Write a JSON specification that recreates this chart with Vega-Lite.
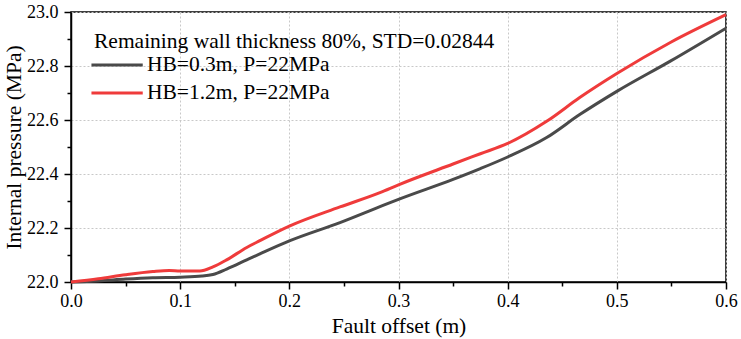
{
  "$schema": "https://vega.github.io/schema/vega-lite/v6.json",
  "autosize": {"type": "none"},
  "padding": {"left": 71, "top": 12, "right": 15, "bottom": 57},
  "width": 655,
  "height": 270,
  "config": {
    "font": "Times New Roman, Liberation Serif, serif",
    "view": {"stroke": "black", "strokeWidth": 1.5},
    "axis": {
      "domainColor": "black", "domainWidth": 1.5,
      "tickColor": "black", "tickWidth": 1.5,
      "labelFont": "Times New Roman, Liberation Serif, serif", "labelFontSize": 18, "labelColor": "black",
      "titleFont": "Times New Roman, Liberation Serif, serif", "titleFontSize": 21.5, "titleFontWeight": "normal", "titleColor": "black",
      "gridColor": "#c8c8c8", "gridDash": [2, 2], "gridWidth": 1
    }
  },
  "data": {"values": [
    {"x": 0, "p": 22.000, "s": "HB=0.3m, P=22MPa"},
    {"x": 0.025, "p": 22.004, "s": "HB=0.3m, P=22MPa"},
    {"x": 0.05, "p": 22.011, "s": "HB=0.3m, P=22MPa"},
    {"x": 0.075, "p": 22.016, "s": "HB=0.3m, P=22MPa"},
    {"x": 0.1, "p": 22.018, "s": "HB=0.3m, P=22MPa"},
    {"x": 0.12, "p": 22.022, "s": "HB=0.3m, P=22MPa"},
    {"x": 0.13, "p": 22.028, "s": "HB=0.3m, P=22MPa"},
    {"x": 0.1426, "p": 22.048, "s": "HB=0.3m, P=22MPa"},
    {"x": 0.161, "p": 22.082, "s": "HB=0.3m, P=22MPa"},
    {"x": 0.173, "p": 22.104, "s": "HB=0.3m, P=22MPa"},
    {"x": 0.2, "p": 22.152, "s": "HB=0.3m, P=22MPa"},
    {"x": 0.2464, "p": 22.22, "s": "HB=0.3m, P=22MPa"},
    {"x": 0.283, "p": 22.279, "s": "HB=0.3m, P=22MPa"},
    {"x": 0.3, "p": 22.306, "s": "HB=0.3m, P=22MPa"},
    {"x": 0.35, "p": 22.38, "s": "HB=0.3m, P=22MPa"},
    {"x": 0.375, "p": 22.42, "s": "HB=0.3m, P=22MPa"},
    {"x": 0.4, "p": 22.463, "s": "HB=0.3m, P=22MPa"},
    {"x": 0.4357, "p": 22.535, "s": "HB=0.3m, P=22MPa"},
    {"x": 0.466, "p": 22.62, "s": "HB=0.3m, P=22MPa"},
    {"x": 0.5, "p": 22.706, "s": "HB=0.3m, P=22MPa"},
    {"x": 0.549, "p": 22.818, "s": "HB=0.3m, P=22MPa"},
    {"x": 0.6, "p": 22.94, "s": "HB=0.3m, P=22MPa"},
    {"x": 0, "p": 22.000, "s": "HB=1.2m, P=22MPa"},
    {"x": 0.025, "p": 22.012, "s": "HB=1.2m, P=22MPa"},
    {"x": 0.05, "p": 22.027, "s": "HB=1.2m, P=22MPa"},
    {"x": 0.075, "p": 22.039, "s": "HB=1.2m, P=22MPa"},
    {"x": 0.09, "p": 22.043, "s": "HB=1.2m, P=22MPa"},
    {"x": 0.1, "p": 22.041, "s": "HB=1.2m, P=22MPa"},
    {"x": 0.118, "p": 22.041, "s": "HB=1.2m, P=22MPa"},
    {"x": 0.13, "p": 22.056, "s": "HB=1.2m, P=22MPa"},
    {"x": 0.1426, "p": 22.082, "s": "HB=1.2m, P=22MPa"},
    {"x": 0.161, "p": 22.128, "s": "HB=1.2m, P=22MPa"},
    {"x": 0.173, "p": 22.153, "s": "HB=1.2m, P=22MPa"},
    {"x": 0.2, "p": 22.207, "s": "HB=1.2m, P=22MPa"},
    {"x": 0.2464, "p": 22.278, "s": "HB=1.2m, P=22MPa"},
    {"x": 0.283, "p": 22.331, "s": "HB=1.2m, P=22MPa"},
    {"x": 0.3, "p": 22.36, "s": "HB=1.2m, P=22MPa"},
    {"x": 0.35, "p": 22.437, "s": "HB=1.2m, P=22MPa"},
    {"x": 0.375, "p": 22.475, "s": "HB=1.2m, P=22MPa"},
    {"x": 0.4, "p": 22.513, "s": "HB=1.2m, P=22MPa"},
    {"x": 0.4357, "p": 22.595, "s": "HB=1.2m, P=22MPa"},
    {"x": 0.466, "p": 22.683, "s": "HB=1.2m, P=22MPa"},
    {"x": 0.5, "p": 22.772, "s": "HB=1.2m, P=22MPa"},
    {"x": 0.549, "p": 22.887, "s": "HB=1.2m, P=22MPa"},
    {"x": 0.6, "p": 22.99, "s": "HB=1.2m, P=22MPa"}
  ]},
  "mark": {"type": "line", "strokeWidth": 3, "interpolate": "monotone"},
  "encoding": {
    "x": {
      "field": "x", "type": "quantitative",
      "scale": {"domain": [0, 0.6], "nice": false},
      "axis": {
        "title": "Fault offset (m)",
        "values": [0, 0.05, 0.1, 0.15, 0.2, 0.25, 0.3, 0.35, 0.4, 0.45, 0.5, 0.55, 0.6],
        "labelExpr": "abs(datum.value*10 - round(datum.value*10)) < 0.01 ? format(datum.value, '.1f') : ''",
        "tickSize": {"condition": {"test": "abs(datum.value*10 - round(datum.value*10)) < 0.01", "value": 7}, "value": 4},
        "gridOpacity": {"condition": {"test": "abs(datum.value*10 - round(datum.value*10)) < 0.01", "value": 1}, "value": 0},
        "labelPadding": 3,
        "titlePadding": 5,
        "labelFlush": false
      }
    },
    "y": {
      "field": "p", "type": "quantitative",
      "scale": {"domain": [22, 23], "nice": false, "zero": false},
      "axis": {
        "title": "Internal pressure (MPa)",
        "values": [22, 22.1, 22.2, 22.3, 22.4, 22.5, 22.6, 22.7, 22.8, 22.9, 23],
        "labelExpr": "abs(datum.value*5 - round(datum.value*5)) < 0.01 ? format(datum.value, '.1f') : ''",
        "tickSize": {"condition": {"test": "abs(datum.value*5 - round(datum.value*5)) < 0.01", "value": 7}, "value": 4},
        "gridOpacity": {"condition": {"test": "abs(datum.value*5 - round(datum.value*5)) < 0.01", "value": 1}, "value": 0},
        "labelPadding": 6,
        "titlePadding": 1,
        "labelFlush": false
      }
    },
    "color": {
      "field": "s", "type": "nominal",
      "scale": {"domain": ["HB=0.3m, P=22MPa", "HB=1.2m, P=22MPa"], "range": ["#4a4a4a", "#ef3b3b"]},
      "legend": {
        "title": "Remaining wall thickness 80%, STD=0.02844",
        "orient": "none",
        "legendX": 23,
        "legendY": 18.5,
        "titleFontSize": 21.5,
        "titleFontWeight": "normal",
        "titleColor": "black",
        "titleFont": "Times New Roman, Liberation Serif, serif",
        "titleLimit": 1000,
        "titlePadding": -2,
        "labelFontSize": 21.5,
        "labelFont": "Times New Roman, Liberation Serif, serif",
        "labelColor": "black",
        "labelLimit": 1000,
        "labelOffset": 23,
        "symbolType": "M-1.3,0H2.5",
        "symbolSize": 729,
        "symbolStrokeWidth": 3,
        "rowPadding": 2
      }
    }
  }
}
